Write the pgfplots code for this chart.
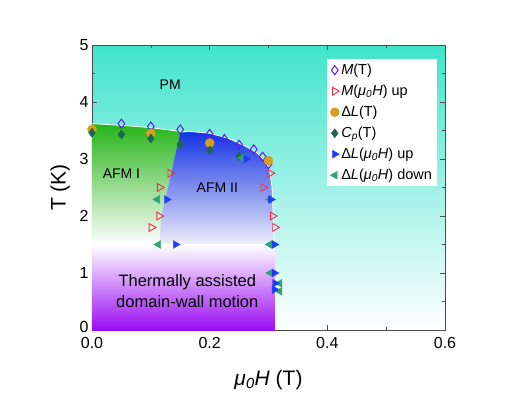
\documentclass[border=0pt]{standalone}
\usepackage{fontspec}
\setmainfont{Liberation Sans}
\usepackage{pgfplots}
\pgfplotsset{compat=1.18}
\definecolor{pmtop}{HTML}{40E4CC}
\definecolor{afmone}{HTML}{26B418}
\definecolor{afmtwo}{HTML}{1432E4}
\definecolor{afmtwolow}{HTML}{EEEEFA}
\definecolor{tadw}{HTML}{9A0CF2}
\definecolor{cMT}{HTML}{5B1FE6}
\definecolor{cMH}{HTML}{F0304A}
\definecolor{cLT}{HTML}{D6A01E}
\definecolor{cCp}{HTML}{1E6450}
\definecolor{cLup}{HTML}{1E3CF5}
\definecolor{cLdn}{HTML}{2AA870}
\begin{document}
\begin{tikzpicture}
\useasboundingbox (-92pt,-66pt) rectangle (426pt,330pt);
\begin{axis}[
  at={(0pt,0pt)}, anchor=south west,
  scale only axis, width=353pt, height=285pt,
  xmin=0, xmax=0.6, ymin=0, ymax=5,
  xtick={0,0.2,0.4,0.6}, minor xtick={0.1,0.3,0.5},
  ytick={0,1,2,3,4,5}, minor ytick={0.5,1.5,2.5,3.5,4.5},
  yticklabels={\raisebox{6pt}{0},1,2,3,4,5},
  tick align=inside, major tick length=5pt, minor tick length=3pt,
  axis line style={draw=black!70}, every tick/.style={black!70},
  /pgf/number format/assume math mode=true,
  xticklabel style={/pgf/number format/.cd, fixed, fixed zerofill, precision=1, /tikz/.cd, yshift=-3.5pt},
  tick label style={font=\fontsize{16}{16}\selectfont},
  xlabel={\textit{μ\textsubscript{0}H} (T)},
  ylabel={T (K)},
  label style={font=\fontsize{21}{21}\selectfont},
  xlabel style={at={(axis description cs:0.5,-0.175)}, anchor=center},
  ylabel style={at={(axis description cs:-0.09,0.5)}, anchor=center, rotate=0},
  axis background/.style={top color=pmtop, middle color=pmtop!30!white, bottom color=white},
  clip mode=individual,
  legend style={at={(rel axis cs:0.666,0.951)}, anchor=north west, draw=none, fill=white,
    font=\fontsize{14.5}{14.5}\selectfont, row sep=5pt, inner sep=3pt},
  legend cell align=left,
]
% regions
\addplot[draw=none, top color=afmone, middle color=afmone!45!white, bottom color=white, forget plot]
  coordinates {(0,1.5) (0,3.62) (0.05,3.59) (0.1,3.55) (0.145,3.49) (0.15,3.46) (0.127,2.4) (0.118,2.0) (0.115,1.5)} -- cycle;
\addplot[draw=none, top color=afmtwo, middle color=afmtwo!50!white, bottom color=afmtwolow, forget plot]
  coordinates {(0.115,1.5) (0.118,2.0) (0.127,2.4) (0.15,3.46) (0.17,3.48) (0.2,3.45) (0.23,3.37) (0.26,3.23) (0.28,3.11) (0.295,2.96) (0.302,2.8) (0.306,2.5) (0.308,2.0) (0.31,1.5)} -- cycle;
\addplot[draw=white, line width=0.8pt, forget plot]
  coordinates {(0,3.62) (0.05,3.59) (0.1,3.55) (0.145,3.49) (0.17,3.48) (0.2,3.45) (0.23,3.37) (0.26,3.23) (0.28,3.11) (0.295,2.96) (0.302,2.8) (0.306,2.5) (0.308,2.0) (0.31,1.5)};
\addplot[draw=none, top color=white, bottom color=tadw, forget plot]
  coordinates {(0,0) (0,1.5) (0.311,1.5) (0.311,0)} -- cycle;
% text labels
\node[font=\fontsize{14}{14}\selectfont] at (axis cs:0.133,4.30) {PM};
\node[font=\fontsize{14}{14}\selectfont] at (axis cs:0.05,2.74) {AFM I};
\node[font=\fontsize{14}{14}\selectfont] at (axis cs:0.213,2.49) {AFM II};
\node[font=\fontsize{16.5}{21}\selectfont, align=center] at (axis cs:0.162,0.675) {Thermally assisted\\domain-wall motion};
% data
\addplot[only marks, mark=diamond, mark size=4.5pt, mark options={draw=cMT, line width=1pt, fill=none}]
  coordinates {(0.05,3.62) (0.1,3.57) (0.15,3.52) (0.2,3.44) (0.225,3.35) (0.25,3.25) (0.275,3.17) (0.29,3.04) (0.3,2.91)};
\addlegendentry{\textit{M}(T)}
\addplot[only marks, mark=triangle, mark size=4.5pt, mark options={draw=cMH, line width=0.9pt, rotate=-90, fill=none}]
  coordinates {(0.133,2.75) (0.115,2.5) (0.114,2.0) (0.101,1.8) (0.303,2.75) (0.291,2.5) (0.307,2.0) (0.311,1.8)};
\addlegendentry{\textit{M}(\textit{μ\textsubscript{0}H}) up}
\addplot[only marks, mark=*, mark size=4.5pt, mark options={draw=cLT, fill=cLT}]
  coordinates {(0.0,3.52) (0.1,3.45) (0.2,3.28) (0.3,2.97)};
\addlegendentry{Δ\textit{L}(T)}
\addplot[only marks, mark=diamond*, mark size=4.5pt, mark options={draw=cCp, fill=cCp}]
  coordinates {(0.0,3.46) (0.05,3.43) (0.1,3.36) (0.15,3.26) (0.2,3.15) (0.25,3.05)};
\addlegendentry{\textit{C\textsubscript{p}}(T)}
\addplot[only marks, mark=triangle*, mark size=4.5pt, mark options={draw=cLdn, fill=cLdn, rotate=90}, forget plot]
  coordinates {(0.255,3.02) (0.111,2.29) (0.113,1.5) (0.302,2.29) (0.302,1.5) (0.303,1.0) (0.319,0.82) (0.319,0.68)};
\addplot[only marks, mark=triangle*, mark size=4.5pt, mark options={draw=cLup, fill=cLup, rotate=-90}]
  coordinates {(0.262,3.0) (0.127,2.29) (0.142,1.5) (0.304,2.29) (0.31,1.5) (0.31,1.0) (0.311,0.82) (0.31,0.71)};
\addlegendentry{Δ\textit{L}(\textit{μ\textsubscript{0}H}) up}
\addlegendimage{only marks, mark=triangle*, mark size=4.5pt, mark options={draw=cLdn, fill=cLdn, rotate=90}}
\addlegendentry{Δ\textit{L}(\textit{μ\textsubscript{0}H}) down}
\end{axis}
\end{tikzpicture}
\end{document}
